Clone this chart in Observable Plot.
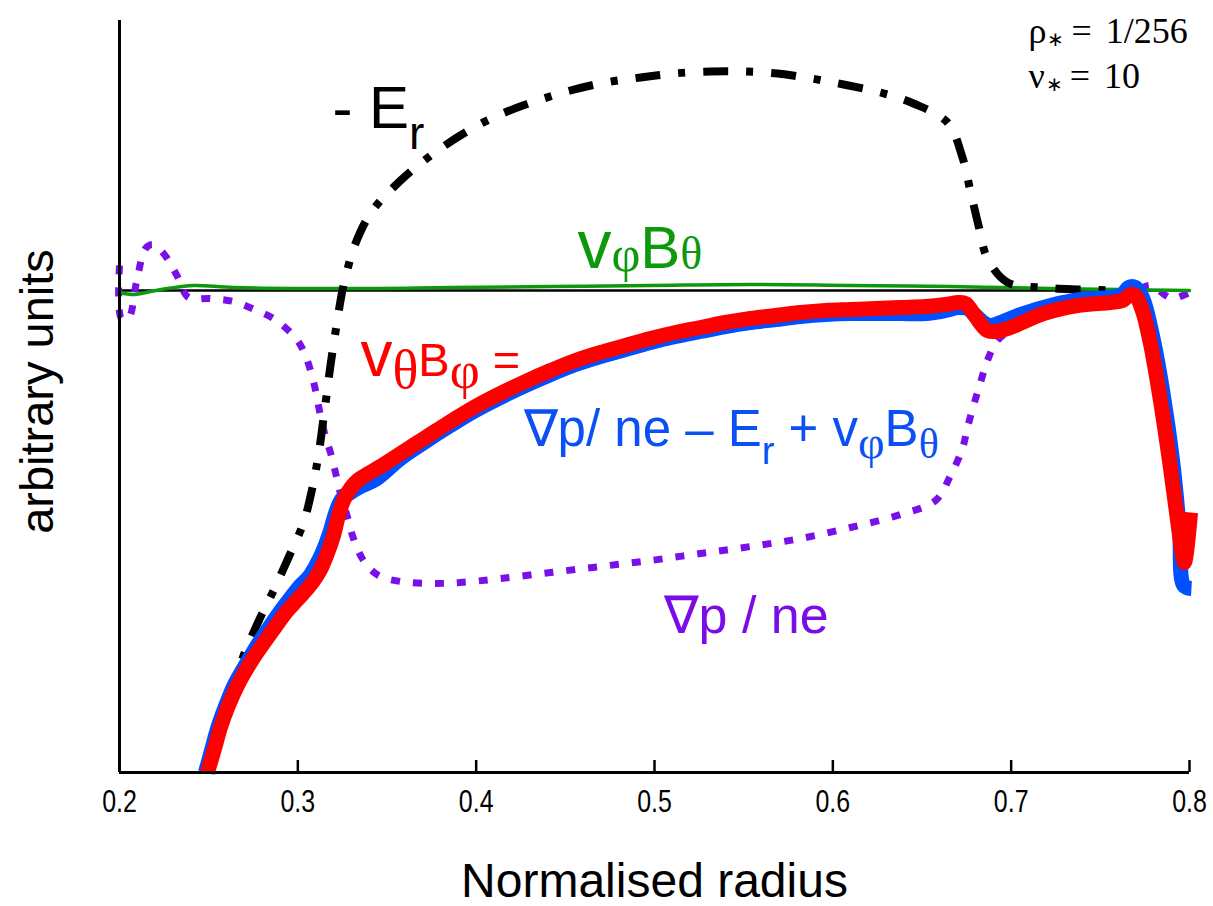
<!DOCTYPE html>
<html>
<head>
<meta charset="utf-8">
<script src="https://cdn.jsdelivr.net/npm/d3@7"></script>
<script src="https://cdn.jsdelivr.net/npm/@observablehq/plot@0.6"></script>
<style>
  html, body { margin: 0; padding: 0; background: #fff; }
  #chart svg { display: block; }
</style>
</head>
<body>
<div id="chart"></div>
<script>
// ---------------- data (normalised radius, arbitrary units; 0 = zero line) ----------------
const xTicks = [0.2, 0.3, 0.4, 0.5, 0.6, 0.7, 0.8];

// -E_r (black dash-dot)
const erRadius = [0.2622, 0.2690, 0.2774, 0.2864, 0.2948, 0.3032, 0.3082, 0.3116, 0.3150, 0.3183, 0.3217, 0.3250, 0.3284, 0.3312, 0.3407, 0.3576, 0.3761, 0.3957, 0.4148, 0.4344, 0.4529, 0.4725, 0.4922, 0.5107, 0.5314, 0.5494, 0.5690, 0.5880, 0.6060, 0.6267, 0.6452, 0.6643, 0.6727, 0.6772, 0.6817, 0.6867, 0.6980, 0.7165, 0.7389, 0.7613];
const erValue  = [-4.10, -3.68, -3.33, -3.00, -2.67, -2.32, -1.97, -1.64, -1.20, -0.75, -0.35, 0.00, 0.25, 0.42, 0.77, 1.10, 1.37, 1.60, 1.77, 1.90, 2.00, 2.08, 2.13, 2.17, 2.19, 2.19, 2.17, 2.12, 2.06, 1.98, 1.87, 1.68, 1.33, 0.99, 0.65, 0.32, 0.08, 0.03, 0.01, 0.00];

// grad p / ne (purple dotted)
const gpRadius = [0.2000, 0.2011, 0.2050, 0.2095, 0.2146, 0.2185, 0.2247, 0.2325, 0.2387, 0.2510, 0.2639, 0.2757, 0.2880, 0.2998, 0.3049, 0.3093, 0.3127, 0.3161, 0.3183, 0.3211, 0.3239, 0.3279, 0.3312, 0.3368, 0.3452, 0.3576, 0.3744, 0.3912, 0.4136, 0.4417, 0.4697, 0.4978, 0.5258, 0.5538, 0.5819, 0.6099, 0.6380, 0.6576, 0.6660, 0.6727, 0.6755, 0.6789, 0.6828, 0.6867, 0.6923, 0.6996, 0.7221, 0.7501, 0.7669, 0.7781, 0.7866, 0.7905, 0.8000];
const gpValue  = [0.25, -0.28, -0.28, 0.08, 0.42, 0.46, 0.37, 0.14, -0.07, -0.08, -0.11, -0.19, -0.30, -0.50, -0.68, -0.95, -1.25, -1.50, -1.62, -1.82, -2.03, -2.27, -2.48, -2.70, -2.85, -2.91, -2.93, -2.92, -2.88, -2.82, -2.76, -2.70, -2.63, -2.56, -2.48, -2.37, -2.24, -2.10, -1.85, -1.58, -1.37, -1.15, -0.92, -0.70, -0.50, -0.40, -0.22, -0.12, -0.04, 0.05, -0.05, -0.08, -0.02];

// v_phi B_theta (green)
const vpRadius = [0.2000, 0.2079, 0.2174, 0.2269, 0.2415, 0.2639, 0.3295, 0.3856, 0.4417, 0.4978, 0.5538, 0.6099, 0.6660, 0.7221, 0.7613, 0.8000];
const vpValue  = [-0.02, -0.04, -0.01, 0.02, 0.05, 0.03, 0.02, 0.03, 0.04, 0.05, 0.06, 0.05, 0.04, 0.02, 0.01, 0.00];

// v_theta B_phi (red)
const vtRadius = [0.2493, 0.2533, 0.2566, 0.2611, 0.2667, 0.2735, 0.2807, 0.2875, 0.2942, 0.3004, 0.3054, 0.3093, 0.3127, 0.3161, 0.3200, 0.3228, 0.3256, 0.3295, 0.3335, 0.3396, 0.3464, 0.3576, 0.3716, 0.3856, 0.3996, 0.4136, 0.4277, 0.4417, 0.4557, 0.4697, 0.4837, 0.4978, 0.5118, 0.5258, 0.5398, 0.5538, 0.5679, 0.5819, 0.5959, 0.6099, 0.6239, 0.6380, 0.6520, 0.6632, 0.6705, 0.6744, 0.6789, 0.6828, 0.6867, 0.6912, 0.6996, 0.7181, 0.7372, 0.7557, 0.7624, 0.7669, 0.7697, 0.7736, 0.7781, 0.7837, 0.7893, 0.7933, 0.7961, 0.7972, 0.8006];
const vtValue  = [-4.82, -4.58, -4.37, -4.15, -3.93, -3.72, -3.53, -3.36, -3.20, -3.08, -2.98, -2.89, -2.79, -2.65, -2.45, -2.25, -2.10, -1.98, -1.90, -1.83, -1.76, -1.63, -1.47, -1.31, -1.16, -1.03, -0.91, -0.80, -0.70, -0.62, -0.55, -0.48, -0.42, -0.37, -0.32, -0.28, -0.25, -0.22, -0.20, -0.19, -0.18, -0.17, -0.16, -0.14, -0.12, -0.13, -0.23, -0.33, -0.40, -0.41, -0.37, -0.23, -0.15, -0.12, -0.10, -0.04, -0.05, -0.20, -0.53, -1.10, -1.77, -2.30, -2.65, -2.72, -2.22];

// grad p/ne - E_r + v_phi B_theta (blue)
const sumRadius = [0.2482, 0.2516, 0.2550, 0.2594, 0.2645, 0.2712, 0.2779, 0.2847, 0.2914, 0.2970, 0.3015, 0.3060, 0.3099, 0.3138, 0.3178, 0.3211, 0.3245, 0.3295, 0.3351, 0.3436, 0.3576, 0.3716, 0.3856, 0.3996, 0.4136, 0.4277, 0.4417, 0.4557, 0.4697, 0.4837, 0.4978, 0.5118, 0.5258, 0.5398, 0.5538, 0.5679, 0.5819, 0.5959, 0.6099, 0.6239, 0.6380, 0.6520, 0.6632, 0.6705, 0.6755, 0.6800, 0.6845, 0.6884, 0.6940, 0.7052, 0.7221, 0.7389, 0.7557, 0.7624, 0.7658, 0.7697, 0.7736, 0.7792, 0.7849, 0.7905, 0.7944, 0.7968, 0.8011];
const sumValue  = [-4.82, -4.60, -4.38, -4.16, -3.94, -3.73, -3.53, -3.35, -3.18, -3.05, -2.95, -2.87, -2.76, -2.62, -2.43, -2.23, -2.09, -2.02, -1.96, -1.89, -1.68, -1.51, -1.35, -1.20, -1.07, -0.95, -0.84, -0.74, -0.66, -0.59, -0.52, -0.46, -0.41, -0.36, -0.32, -0.29, -0.26, -0.24, -0.23, -0.23, -0.23, -0.23, -0.20, -0.17, -0.18, -0.25, -0.32, -0.35, -0.32, -0.24, -0.15, -0.09, -0.07, -0.04, 0.03, 0.03, -0.07, -0.45, -1.00, -1.70, -2.40, -2.95, -2.98];

// annotation anchors (data units) and texts
const annotKeys   = ["er", "vpbt", "vtbp", "sum", "gp", "rho", "nu"];
const annotRadius = [0.3194, 0.4568, 0.3351, 0.4266, 0.5051, 0.7097, 0.7097];
const annotValue  = [1.63, 0.23, -0.85, -1.55, -3.42, 2.48, 2.03];
const axisTitleX = "Normalised radius";
const axisTitleY = "arbitrary units";

// ---------------- build ----------------
const yDomain = [-4.82, 2.70];
const toRows = (xs, ys) => xs.map((x, i) => ({x, y: ys[i]}));
const erData = toRows(erRadius, erValue);
const gpData = toRows(gpRadius, gpValue);
const vpData = toRows(vpRadius, vpValue);
const vtData = toRows(vtRadius, vtValue);
const sumData = toRows(sumRadius, sumValue);
const annots = annotKeys.map((k, i) => ({key: k, x: annotRadius[i], y: annotValue[i]}));

const SANS = "'Liberation Sans', Arial, Helvetica, sans-serif";
const SERIF = "'Liberation Serif', 'Times New Roman', serif";
const labelStyle = {
  er:   {color: "#000000", size: 60, family: SANS,
         html: `- E<tspan font-size="46" dy="21">r</tspan>`},
  vpbt: {color: "#0c990c", size: 60, family: SANS,
         html: `<tspan font-size="68">v</tspan><tspan font-family="${SERIF}" font-size="50" dy="3">φ</tspan><tspan dy="-3">B</tspan><tspan font-family="${SERIF}" font-size="46" dy="1">θ</tspan>`},
  vtbp: {color: "#ff0000", size: 47, family: SANS,
         html: `<tspan font-size="64">v</tspan><tspan font-family="${SERIF}" font-size="54" dy="12">θ</tspan><tspan dy="-12">B</tspan><tspan font-family="${SERIF}" font-size="52" dy="12">φ</tspan><tspan dy="-12"> =</tspan>`},
  sum:  {color: "#0a50f5", size: 51, family: SANS,
         html: `∇p/ ne – E<tspan font-size="38" dy="18">r</tspan><tspan dy="-18"> + v</tspan><tspan font-family="${SERIF}" font-size="46" dy="12">φ</tspan><tspan dy="-12">B</tspan><tspan font-family="${SERIF}" font-size="42" dy="12">θ</tspan>`},
  gp:   {color: "#7a0ce8", size: 52, family: SANS, html: `∇p / ne`},
  rho:  {color: "#000000", size: 36, family: SERIF,
         html: `ρ<tspan font-size="20" dy="3" dx="1">∗</tspan><tspan dy="-3" dx="7">=</tspan><tspan dx="14">1/256</tspan>`},
  nu:   {color: "#000000", size: 36, family: SERIF,
         html: `ν<tspan font-size="20" dy="3" dx="1">∗</tspan><tspan dy="-3" dx="7">=</tspan><tspan dx="14">10</tspan>`}
};

const labelMarks = annots.map(a => Plot.text([a], {
  x: "x", y: "y", text: "key", textAnchor: "start", lineAnchor: "bottom",
  fill: labelStyle[a.key].color,
  fontSize: labelStyle[a.key].size, fontFamily: labelStyle[a.key].family
}));

const chart = Plot.plot({
  width: 1213, height: 906,
  marginLeft: 119, marginRight: 24, marginTop: 20, marginBottom: 134,
  x: {domain: [0.2, 0.8]},
  y: {domain: yDomain, axis: null},
  style: {background: "#fff", color: "#000", fontFamily: SANS},
  marks: [
    Plot.ruleY([0], {stroke: "#000", strokeWidth: 2.5}),
    Plot.line(gpData, {x: "x", y: "y", stroke: "#7a10e8", strokeWidth: 7, strokeDasharray: "9,13", strokeLinecap: "butt", curve: "catmull-rom"}),
    Plot.line(vpData, {x: "x", y: "y", stroke: "#0c990c", strokeWidth: 3.5, curve: "catmull-rom"}),
    Plot.line(erData, {x: "x", y: "y", stroke: "#000", strokeWidth: 8, strokeDasharray: "25,18,7,18", strokeLinecap: "butt", curve: "catmull-rom"}),
    Plot.line(sumData, {x: "x", y: "y", stroke: "#0050ff", strokeWidth: 15, strokeLinecap: "butt", curve: "catmull-rom"}),
    Plot.line(vtData, {x: "x", y: "y", stroke: "#ff0000", strokeWidth: 15, strokeLinecap: "butt", curve: "catmull-rom"}),
    Plot.ruleX([xTicks[0]], {stroke: "#000", strokeWidth: 3}),
    Plot.ruleY([yDomain[0]], {stroke: "#000", strokeWidth: 3}),
    Plot.axisX(xTicks, {tickSize: -12, tickPadding: 29, strokeWidth: 2.5, fontSize: 32,
      fontFamily: SANS, label: null, tickFormat: d => d.toFixed(1)}),
    Plot.text([axisTitleX], {frameAnchor: "bottom", lineAnchor: "bottom", dy: 124, fontSize: 48, fontFamily: SANS, fill: "#000"}),
    Plot.text([axisTitleY], {frameAnchor: "left", rotate: -90, lineAnchor: "middle", textAnchor: "middle", dx: -82, dy: -5, fontSize: 47, fontFamily: SANS, fill: "#000"}),
    ...labelMarks
  ]
});

// rich text (subscripts) for annotations
chart.querySelectorAll("text").forEach(t => {
  const s = labelStyle[t.textContent];
  if (s) t.innerHTML = s.html;
});
// narrow tick-label glyphs, as in the reference
chart.querySelectorAll('g[aria-label="x-axis tick label"] text').forEach(t => {
  const tr = t.getAttribute("transform") || "";
  t.setAttribute("transform", tr + " scale(0.78,1)");
});
document.getElementById("chart").appendChild(chart);
</script>
</body>
</html>
